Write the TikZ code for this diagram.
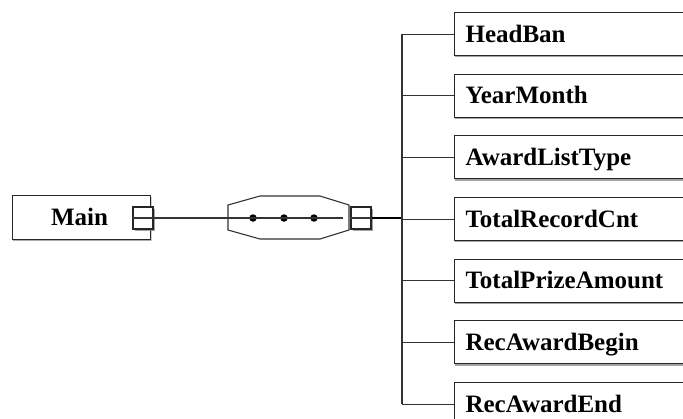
\documentclass[tikz,border=0pt]{standalone}
\usepackage{fontspec}
\setmainfont{Liberation Serif}
\usetikzlibrary{shadows}
\begin{document}
\begin{tikzpicture}[x=1pt,y=-1pt,
  ln/.style={draw=black!80,line width=1.1pt},
  field/.style={draw=black!85,line width=1.1pt,fill=white,minimum width=270pt,minimum height=43pt,
    anchor=north west,inner xsep=11pt,text width=248pt,align=left,text height=16pt,text depth=0pt,
    font=\fontsize{25}{28}\selectfont\bfseries,
    drop shadow={shadow xshift=0.5pt,shadow yshift=-1.8pt,fill=black!45,opacity=0.8}},
  port/.style={draw=black!85,line width=1.1pt,fill=white,minimum width=20pt,minimum height=22pt,inner sep=0pt,
    drop shadow={shadow xshift=2pt,shadow yshift=-2pt,fill=black!45,opacity=0.8}},
  dot/.style={circle,fill=black,inner sep=0pt,minimum size=7.5pt}]
\clip (0,0) rectangle (683,418);
\fill[white] (0,0) rectangle (683,418);
% Main
\node[field,minimum width=138pt,minimum height=44pt,text width=116pt,align=center,inner xsep=0pt,anchor=north west,
  drop shadow={shadow xshift=1pt,shadow yshift=-1pt,fill=black!30,opacity=0.6}] (main) at (12,195) {\hspace*{-4pt}Main};
\node[port] (msq) at (143,218) {};
% sequence octagon
\draw[ln] (228,205) -- (260,196) -- (320,196) -- (349,205) -- (349,230) -- (320,239) -- (260,239) -- (228,230) -- cycle;
\coordinate (hl) at (228,218);
\coordinate (hr) at (343,218);
\node[dot] (d1) at (253,218) {};
\node[dot] (d2) at (284,218) {};
\node[dot] (d3) at (314,218) {};
\node[port] (ssq) at (361,218) {};
\draw[ln] (msq.west) -- (hl);
\draw[ln] (hl) -- (hr);
\draw[ln] (ssq.west) -- (ssq.east);
\coordinate (bus) at (402,218);
\draw[draw=black,line width=2.2pt] (ssq.east) -- (bus);
% fields
\foreach \n/\t [count=\i from 0] in {b1/HeadBan,b2/YearMonth,b3/AwardListType,b4/TotalRecordCnt,b5/TotalPrizeAmount,b6/RecAwardBegin,b7/RecAwardEnd}{
  \node[field] (\n) at (454,12+61.67*\i) {\t};
  \coordinate (c\n) at (\n.west -| bus);
  \draw[ln] (c\n) -- (\n.west);
}
\draw[ln] (cb1) -- (cb7);
\end{tikzpicture}
\end{document}
